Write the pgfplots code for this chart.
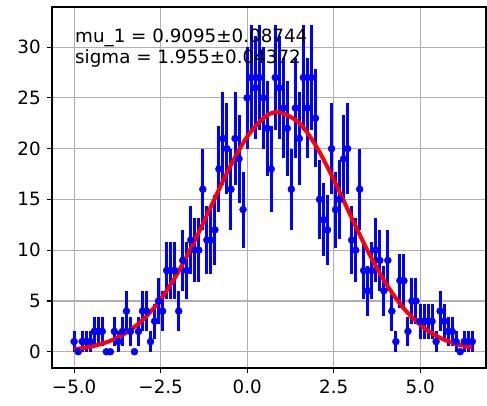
\documentclass[border=0pt]{standalone}
\usepackage{fontspec}
\setmainfont{DejaVu Sans}
\usepackage{pgfplots}
\pgfplotsset{compat=1.18}
\usepackage{pgfplotstable}

% binned counts with sqrt(N) errors
\pgfplotstableread{
x y e
-5.000 1 1
-4.884 0 0
-4.768 1 1
-4.651 1 1
-4.535 1 1
-4.419 2 1.414
-4.303 2 1.414
-4.187 2 1.414
-4.070 0 0
-3.954 0 0
-3.838 2 1.414
-3.722 1 1
-3.606 2 1.414
-3.489 4 2
-3.373 2 1.414
-3.257 0 0
-3.141 2 1.414
-3.025 4 2
-2.908 4 2
-2.792 1 1
-2.676 3 1.732
-2.560 5 2.236
-2.444 4 2
-2.327 8 2.828
-2.211 8 2.828
-2.095 8 2.828
-1.979 4 2
-1.863 9 3
-1.746 8 2.828
-1.630 11 3.317
-1.514 10 3.162
-1.398 10 3.162
-1.282 16 4
-1.165 11 3.317
-1.049 11 3.317
-0.933 12 3.464
-0.817 18 4.243
-0.701 21 4.583
-0.584 20 4.472
-0.468 16 4
-0.352 21 4.583
-0.236 19 4.359
-0.120 14 3.742
-0.003 25 5
0.113 27 5.196
0.229 26 5.099
0.345 27 5.196
0.461 25 5
0.578 22 4.690
0.694 18 4.243
0.810 27 5.196
0.926 26 5.099
1.042 24 4.899
1.159 22 4.690
1.275 16 4
1.391 24 4.899
1.507 21 4.583
1.623 27 5.196
1.740 24 4.899
1.856 27 5.196
1.972 23 4.796
2.088 15 3.873
2.204 13 3.606
2.321 12 3.464
2.437 20 4.472
2.553 14 3.742
2.669 15 3.873
2.785 19 4.359
2.902 20 4.472
3.018 11 3.317
3.134 10 3.162
3.250 16 4
3.366 8 2.828
3.483 6 2.449
3.599 8 2.828
3.715 10 3.162
3.831 9 3
3.947 6 2.449
4.064 9 3
4.180 4 2
4.296 1 1
4.412 7 2.646
4.528 7 2.646
4.645 2 1.414
4.761 5 2.236
4.877 5 2.236
4.993 3 1.732
5.109 3 1.732
5.226 3 1.732
5.342 3 1.732
5.458 1 1
5.574 4 2
5.690 3 1.732
5.807 2 1.414
5.923 2 1.414
6.039 1 1
6.155 0 0
6.271 1 1
6.388 1 1
6.504 1 1
}\datatable

% fitted gaussian, mu=0.9095, sigma=1.955
\pgfplotstableread{
x y
-5.0 0.245
-4.5 0.513
-4.0 1.008
-3.5 1.855
-3.0 3.196
-2.5 5.158
-2.0 7.798
-1.5 11.043
-1.0 14.647
-0.5 18.199
0.0 21.180
0.5 23.088
0.9095 23.600
1.5 22.548
2.0 20.200
2.5 16.950
3.0 13.324
3.5 9.810
4.0 6.765
4.5 4.370
5.0 2.644
5.5 1.499
6.0 0.796
6.5 0.396
}\fittable

\definecolor{gridgray}{RGB}{176,176,176}

\begin{document}
\fontsize{18.3}{22}\selectfont
\begin{tikzpicture}
\begin{axis}[
    scale only axis,
    width=434pt, height=361pt,
    xmin=-5.64, xmax=6.9,
    ymin=-1.6, ymax=33.95,
    xtick={-5,-2.5,0,2.5,5},
    xticklabels={−5.0,−2.5,0.0,2.5,5.0},
    ytick={0,5,10,15,20,25,30},
    /pgf/number format/assume math mode=true,
    tick align=outside,
    tick pos=left,
    major tick length=5pt,
    tick style={black, line width=1.1pt},
    axis line style={black, line width=1.1pt},
    grid=major,
    grid style={gridgray, line width=1.1pt},
    ticklabel style={font=\fontsize{18.3}{22}\selectfont},
    xticklabel style={inner sep=1pt, yshift=-6pt},
]
\addplot[blue, only marks, mark=*, mark size=3.5pt,
    error bars/.cd, y dir=both, y explicit,
    error bar style={line width=3pt, blue}, error mark=none]
    table[x=x, y=y, y error=e] {\datatable};

\addplot[red, line width=4pt, smooth, no marks] table[x=x, y=y] {\fittable};

\node[anchor=base west, inner sep=0pt] at (axis description cs:0.053,0.903) {mu\_1 = 0.9095±0.08744};
\node[anchor=base west, inner sep=0pt] at (axis description cs:0.053,0.843) {sigma = 1.955±0.04372};
\end{axis}
\pgfresetboundingbox
\path[use as bounding box] ([xshift=-52pt,yshift=-38pt]current axis.south west) rectangle ([xshift=1pt,yshift=7pt]current axis.north east);
\end{tikzpicture}
\end{document}
